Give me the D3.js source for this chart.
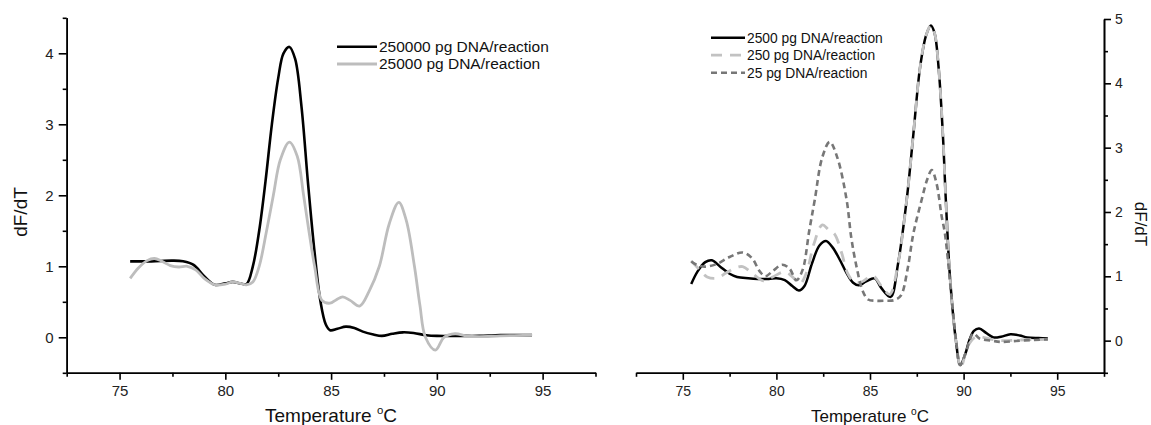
<!DOCTYPE html>
<html>
<head>
<meta charset="utf-8">
<script src="https://cdn.jsdelivr.net/npm/d3@7"></script>
<style>
  body { margin: 0; background: #fff; }
  svg { display: block; font-family: "Liberation Sans", Arial, sans-serif; }
  .domain, .tick line { stroke: #000; stroke-width: 1.6; }
</style>
</head>
<body>
<div id="chart"></div>
<script>
// ---- data ----
const xMajorTicks = [75, 80, 85, 90, 95];
const xMinorTicks = [72.5, 77.5, 82.5, 87.5, 92.5, 97.5];
const leftYMajor = [0, 1, 2, 3, 4];
const leftYMinor = [-0.5, 0.5, 1.5, 2.5, 3.5, 4.5];
const rightYMajor = [0, 1, 2, 3, 4, 5];
const rightYMinor = [-0.5, 0.5, 1.5, 2.5, 3.5, 4.5];

// left panel: 250000 pg
const leftBlackT = [75.5, 76.5, 77.5, 78.0, 78.5, 79.0, 79.5, 80.0, 80.35, 80.7, 81.0, 81.3, 81.6, 81.9, 82.2, 82.5, 82.75, 83.03, 83.3, 83.6, 83.9, 84.2, 84.5, 84.75, 84.95, 85.3, 85.7, 86.1, 86.5, 87.0, 87.4, 87.9, 88.4, 88.9, 89.5, 90.0, 91.0, 92.0, 93.0, 94.5];
const leftBlackV = [1.07, 1.07, 1.08, 1.07, 1.02, 0.86, 0.74, 0.76, 0.78, 0.76, 0.75, 1.0, 1.5, 2.2, 3.0, 3.65, 4.0, 4.09, 3.92, 3.25, 2.2, 1.25, 0.5, 0.18, 0.1, 0.12, 0.15, 0.13, 0.08, 0.04, 0.02, 0.05, 0.07, 0.06, 0.03, 0.02, 0.02, 0.02, 0.03, 0.03];
// left panel: 25000 pg
const leftGrayT = [75.5, 75.9, 76.3, 76.65, 77.0, 77.4, 77.8, 78.2, 78.6, 79.0, 79.5, 80.0, 80.35, 80.7, 81.0, 81.3, 81.6, 81.95, 82.27, 82.6, 83.03, 83.4, 83.7, 83.95, 84.22, 84.57, 84.95, 85.25, 85.55, 85.9, 86.35, 86.8, 87.28, 87.75, 88.2, 88.55, 88.94, 89.2, 89.46, 89.93, 90.34, 90.86, 91.4, 92.0, 93.0, 94.5];
const leftGrayV = [0.83, 0.98, 1.08, 1.11, 1.07, 1.01, 0.99, 1.0, 0.95, 0.83, 0.74, 0.75, 0.78, 0.76, 0.74, 0.78, 1.0, 1.5, 2.0, 2.5, 2.75, 2.55, 2.0, 1.5, 1.0, 0.52, 0.48, 0.53, 0.57, 0.52, 0.44, 0.65, 1.0, 1.6, 1.9, 1.65, 1.0, 0.45, 0.0, -0.18, 0.0, 0.05, 0.02, 0.01, 0.02, 0.03];

// right panel: 2500 pg
const rightBlackT = [75.45, 75.8, 76.2, 76.55, 77.0, 77.5, 77.9, 78.5, 79.0, 79.6, 80.0, 80.45, 80.85, 81.2, 81.5, 81.9, 82.3, 82.65, 83.0, 83.4, 83.75, 84.1, 84.4, 84.8, 85.25, 85.6, 86.1, 86.5, 86.96, 87.32, 87.68, 88.0, 88.25, 88.45, 88.66, 88.89, 89.05, 89.27, 89.59, 89.82, 90.1, 90.3, 90.55, 90.83, 91.2, 91.6, 92.0, 92.5, 93.0, 93.4, 94.0, 94.5];
const rightBlackV = [0.88, 1.08, 1.22, 1.25, 1.15, 1.04, 0.99, 0.97, 0.96, 0.96, 0.97, 0.94, 0.85, 0.78, 0.85, 1.2, 1.48, 1.55, 1.45, 1.25, 1.05, 0.9, 0.86, 0.92, 0.97, 0.82, 0.68, 1.2, 2.19, 3.22, 4.26, 4.75, 4.9, 4.78, 4.26, 3.22, 2.19, 1.0, 0.0, -0.38, -0.2, 0.0, 0.15, 0.19, 0.12, 0.05, 0.06, 0.1, 0.08, 0.05, 0.04, 0.035];
// right panel: 250 pg
const rightGrayT = [75.45, 75.9, 76.3, 76.8, 77.3, 77.8, 78.2, 78.7, 79.3, 79.8, 80.45, 80.9, 81.25, 81.6, 82.0, 82.45, 82.8, 83.1, 83.5, 83.8, 84.2, 84.6, 85.15, 85.6, 86.05, 86.5, 86.96, 87.32, 87.68, 88.0, 88.25, 88.45, 88.66, 88.89, 89.05, 89.27, 89.59, 89.85, 90.1, 90.3, 90.6, 90.9, 91.5, 92.0, 93.0, 94.5];
const rightGrayV = [1.24, 1.1, 0.99, 0.97, 1.05, 1.13, 1.15, 1.05, 0.93, 0.99, 1.07, 0.98, 0.88, 1.05, 1.5, 1.8, 1.72, 1.66, 1.35, 1.05, 0.9, 0.92, 1.01, 0.85, 0.72, 1.2, 2.19, 3.22, 4.26, 4.75, 4.9, 4.78, 4.26, 3.22, 2.19, 1.0, 0.0, -0.42, -0.2, -0.05, 0.05, 0.06, 0.02, 0.0, 0.01, 0.02];
// right panel: 25 pg
const rightDotT = [75.45, 75.8, 76.2, 76.8, 77.5, 78.2, 78.7, 79.1, 79.4, 79.8, 80.3, 80.7, 81.07, 81.4, 81.75, 82.05, 82.45, 82.85, 83.25, 83.75, 84.0, 84.28, 84.6, 84.9, 85.3, 85.8, 86.3, 86.65, 87.0, 87.32, 87.76, 88.05, 88.3, 88.55, 88.83, 89.0, 89.37, 89.6, 89.82, 90.1, 90.52, 90.87, 91.5, 92.0, 93.0, 94.5];
const rightDotV = [1.23, 1.17, 1.15, 1.19, 1.3, 1.37, 1.28, 1.08, 1.0, 1.08, 1.18, 1.12, 0.94, 1.1, 1.7, 2.19, 2.85, 3.09, 2.85, 2.19, 1.6, 1.15, 0.78, 0.64, 0.62, 0.62, 0.63, 0.7, 1.1, 1.67, 2.19, 2.5, 2.65, 2.45, 1.93, 1.67, 0.63, 0.0, -0.38, -0.2, 0.11, 0.03, 0.0, -0.02, 0.0, 0.02];

const leftLabels = ["250000 pg DNA/reaction", "25000 pg DNA/reaction"];
const rightLabels = ["2500 pg DNA/reaction", "250 pg DNA/reaction", "25 pg DNA/reaction"];

// ---- drawing ----
const svg = d3.select("#chart").append("svg")
  .attr("width", 1151)
  .attr("height", 425);

function pairs(ts, vs) {
  return ts.map((t, i) => [t, vs[i]]);
}

function drawXAxis(x, yPos, fontSize) {
  svg.append("g")
    .attr("transform", `translate(0,${yPos})`)
    .call(d3.axisBottom(x).tickValues(xMinorTicks).tickFormat("").tickSize(4).tickSizeOuter(0));
  svg.append("g")
    .attr("transform", `translate(0,${yPos})`)
    .call(d3.axisBottom(x).tickValues(xMajorTicks).tickFormat(d3.format("d")).tickSize(7).tickPadding(6).tickSizeOuter(0))
    .call(g => g.selectAll("text").attr("font-size", fontSize).attr("font-family", "Liberation Sans, Arial").attr("fill", "#222"));
}

function drawLine(x, y, data, style) {
  const line = d3.line()
    .x(d => x(d[0]))
    .y(d => y(d[1]))
    .curve(d3.curveCatmullRom.alpha(0.5));
  svg.append("path")
    .datum(data)
    .attr("fill", "none")
    .attr("stroke", style.color)
    .attr("stroke-width", style.width)
    .attr("stroke-dasharray", style.dash || null)
    .attr("stroke-linejoin", "round")
    .attr("d", line);
}

function drawLegend(x0, y0, step, labels, styles, fontSize, lineLen) {
  labels.forEach((lab, i) => {
    const yy = y0 + i * step;
    svg.append("line")
      .attr("x1", x0).attr("x2", x0 + lineLen)
      .attr("y1", yy).attr("y2", yy)
      .attr("stroke", styles[i].color)
      .attr("stroke-width", styles[i].width)
      .attr("stroke-dasharray", styles[i].dash || null);
    svg.append("text")
      .attr("x", x0 + lineLen + 2)
      .attr("y", yy)
      .attr("dy", "0.35em")
      .attr("font-size", fontSize)
      .attr("fill", "#111")
      .text(lab);
  });
}

function axisTitle(cx, cy, fontSize) {
  const t = svg.append("text")
    .attr("x", cx).attr("y", cy)
    .attr("text-anchor", "middle")
    .attr("font-size", fontSize)
    .attr("fill", "#111");
  t.append("tspan").text("Temperature ");
  t.append("tspan").attr("font-size", fontSize * 0.6).attr("dy", -fontSize * 0.4).text("o");
  t.append("tspan").attr("dy", fontSize * 0.4).text("C");
}

// left panel
const xL = d3.scaleLinear().domain([72.5, 97.5]).range([66.7, 595.5]);
const yL = d3.scaleLinear().domain([-0.5, 4.5]).range([372.8, 17.8]);

svg.append("g")
  .attr("transform", "translate(66.7,0)")
  .call(d3.axisLeft(yL).tickValues(leftYMinor).tickFormat("").tickSize(4).tickSizeOuter(0));
svg.append("g")
  .attr("transform", "translate(66.7,0)")
  .call(d3.axisLeft(yL).tickValues(leftYMajor).tickFormat(d3.format("d")).tickSize(8).tickPadding(5).tickSizeOuter(0))
  .call(g => g.selectAll("text").attr("font-size", 15).attr("font-family", "Liberation Sans, Arial").attr("fill", "#222"));
drawXAxis(xL, 372.8, 15);

const leftStyles = [
  { color: "#000", width: 2.6 },
  { color: "#bdbdbd", width: 2.8 }
];
drawLine(xL, yL, pairs(leftBlackT, leftBlackV), leftStyles[0]);
drawLine(xL, yL, pairs(leftGrayT, leftGrayV), leftStyles[1]);
drawLegend(337, 46.7, 17.3, leftLabels, leftStyles, 15.5, 40);

svg.append("text")
  .attr("transform", "translate(20,212) rotate(-90)")
  .attr("text-anchor", "middle")
  .attr("dy", "0.35em")
  .attr("font-size", 19)
  .attr("fill", "#111")
  .text("dF/dT");
axisTitle(331, 422, 19);

// right panel
const xR = d3.scaleLinear().domain([72.5, 97.5]).range([636, 1104]);
const yR = d3.scaleLinear().domain([-0.5, 5]).range([372.8, 19]);

svg.append("g")
  .attr("transform", "translate(1104,0)")
  .call(d3.axisRight(yR).tickValues(rightYMinor).tickFormat("").tickSize(4).tickSizeOuter(0));
svg.append("g")
  .attr("transform", "translate(1104,0)")
  .call(d3.axisRight(yR).tickValues(rightYMajor).tickFormat(d3.format("d")).tickSize(7).tickPadding(4).tickSizeOuter(0))
  .call(g => g.selectAll("text").attr("font-size", 14).attr("font-family", "Liberation Sans, Arial").attr("fill", "#222"));
drawXAxis(xR, 372.8, 14);

const rightStyles = [
  { color: "#000", width: 2.5 },
  { color: "#c2c2c2", width: 2.8, dash: "11,8" },
  { color: "#777", width: 2.6, dash: "6,4" }
];
drawLine(xR, yR, pairs(rightBlackT, rightBlackV), rightStyles[0]);
drawLine(xR, yR, pairs(rightGrayT, rightGrayV), rightStyles[1]);
drawLine(xR, yR, pairs(rightDotT, rightDotV), rightStyles[2]);
drawLegend(711, 37.7, 17.5, rightLabels, rightStyles, 13.8, 34);

svg.append("text")
  .attr("transform", "translate(1141,224) rotate(90)")
  .attr("text-anchor", "middle")
  .attr("dy", "0.35em")
  .attr("font-size", 17)
  .attr("fill", "#111")
  .text("dF/dT");
axisTitle(870, 422, 17);
</script>
</body>
</html>
